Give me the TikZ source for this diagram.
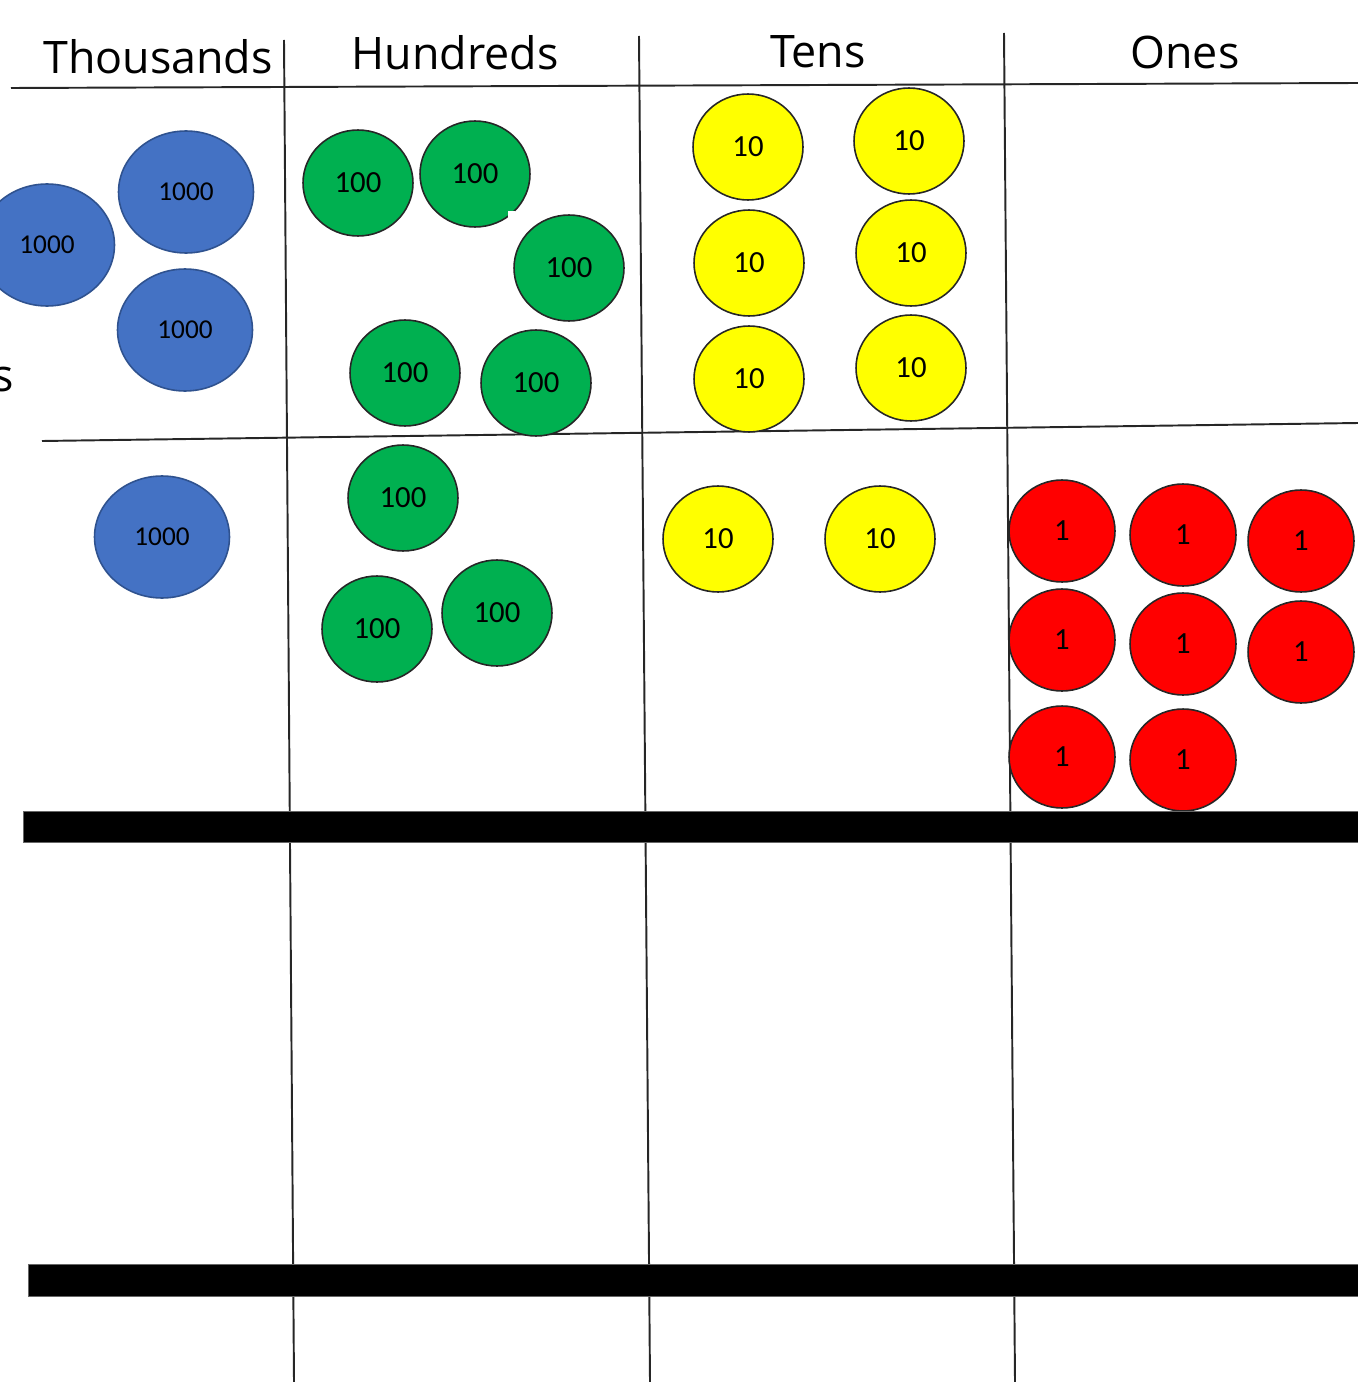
\documentclass[tikz,border=0pt]{standalone}
\usepackage{fontspec}
\newfontfamily\headfont{Open Sans}
\newfontfamily\coinfont{Carlito}
\usetikzlibrary{shapes.geometric,positioning}

\definecolor{thoublue}{HTML}{4472C4}
\definecolor{thouedge}{HTML}{2F528F}
\definecolor{hundgreen}{HTML}{00B050}
\definecolor{tensyellow}{HTML}{FFFF00}
\definecolor{onesred}{HTML}{FF0000}

\begin{document}
\begin{tikzpicture}[x=0.02cm,y=-0.02cm,
  rule/.style={line width=1.1pt,black!85},
  bar/.style={fill=black,draw=black!60,line width=0.4pt},
  head/.style={font=\headfont\fontsize{25.5}{26}\selectfont,inner sep=0pt},
  coin/.style={ellipse,draw=black!85,line width=0.9pt,inner sep=0pt,
    font=\coinfont\fontsize{17.5}{18}\selectfont},
  thou/.style={coin,fill=thoublue,draw=thouedge,minimum width=2.7cm,minimum height=2.44cm,
    font=\coinfont\fontsize{15.5}{16}\selectfont},
  hund/.style={coin,fill=hundgreen,minimum width=2.2cm,minimum height=2.12cm},
  tens/.style={coin,fill=tensyellow,minimum width=2.2cm,minimum height=2.12cm},
  ones/.style={coin,fill=onesred,minimum width=2.12cm,minimum height=2.04cm}]

\useasboundingbox (0,0) rectangle (1358,1382);

% --- column headings ---
\node[head] (hthou) at (158,57) {Thousands};
\node[head] (hhund) at (455,53) {Hundreds};
\node[head] (htens) at (818,52) {Tens};
\node[head] (hones) at (1185,52) {Ones};
\node[head,anchor=east] (cut) at (14,380) {s};

% --- grid lines ---
\draw[rule] (11,88) -- (1358,83);
\draw[rule] (42,441) -- (1358,423);
\draw[rule] (284,40) -- (294,1382);
\draw[rule] (639,36) -- (650,1382);
\draw[rule] (1004,33) -- (1015,1382);

% --- first number ---
\node[thou] (t1) at (186,192) {1000};
\node[thou] (t2) at (47,245) {1000};
\node[thou] (t3) at (185,330) {1000};

\node[hund] (h1) at (358,183) {100};
\node[hund] (h2) at (475,174) {100};
\fill[white] (508,211) rectangle (515,218);
\node[hund] (h3) at (569,268) {100};
\node[hund] (h4) at (405,373) {100};
\node[hund] (h5) at (536,383) {100};

\node[tens] (d1) at (748,147) {10};
\node[tens] (d2) at (909,141) {10};
\node[tens] (d3) at (749,263) {10};
\node[tens] (d4) at (911,253) {10};
\node[tens] (d5) at (749,379) {10};
\node[tens] (d6) at (911,368) {10};

% --- second number ---
\node[thou] (t4) at (162,537) {1000};

\node[hund] (h6) at (403,498) {100};
\node[hund] (h7) at (377,629) {100};
\node[hund] (h8) at (497,613) {100};

\node[tens] (d7) at (718,539) {10};
\node[tens] (d8) at (880,539) {10};

\node[ones] (o1) at (1062,531) {1};
\node[ones] (o2) at (1183,535) {1};
\node[ones] (o3) at (1301,541) {1};
\node[ones] (o4) at (1062,640) {1};
\node[ones] (o5) at (1183,644) {1};
\node[ones] (o6) at (1301,652) {1};
\node[ones] (o7) at (1062,757) {1};
\node[ones] (o8) at (1183,760) {1};

% --- answer bars ---
\draw[bar] (23,811) rectangle (1360,842);
\draw[bar] (28,1264) rectangle (1360,1296);
\end{tikzpicture}
\end{document}
